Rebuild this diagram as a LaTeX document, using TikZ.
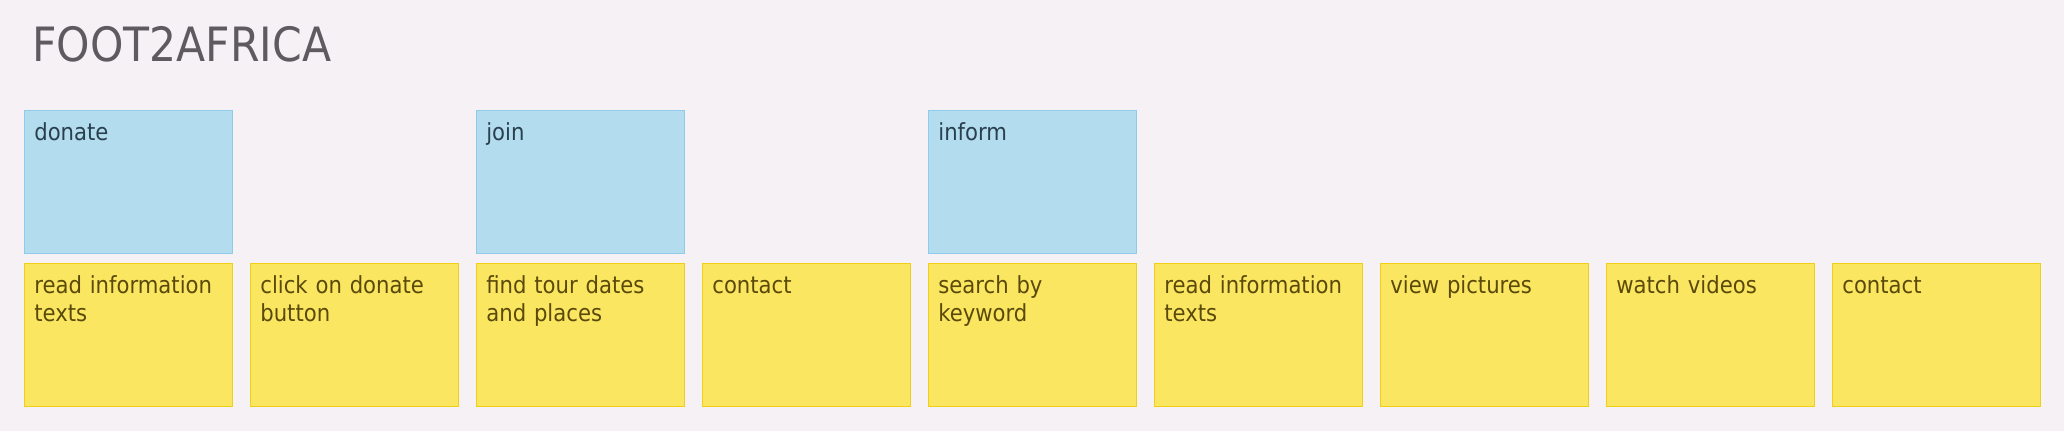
\documentclass[tikz,border=0pt]{standalone}
\usepackage{fontspec}
\setmainfont{DejaVu Sans Condensed}
\usepackage{xcolor}

\definecolor{pagebg}{HTML}{F5F1F5}
\definecolor{goalfill}{HTML}{B3DDEF}
\definecolor{goalline}{HTML}{8FCBEA}
\definecolor{goaltext}{HTML}{2A3F4E}
\definecolor{taskfill}{HTML}{FBE661}
\definecolor{taskline}{HTML}{F0CF14}
\definecolor{tasktext}{HTML}{5A4A0A}
\definecolor{titlegray}{HTML}{5E5A60}

\newcommand{\cardfont}{\fontsize{13.4}{16.1}\selectfont}
\newcommand{\titlefont}{\fontsize{26.9}{31}\selectfont}

\begin{document}
\begin{tikzpicture}[
  goal/.style={fill=goalfill,draw=goalline,line width=0.6pt,
    minimum width=4.16cm,minimum height=2.86cm,anchor=north west,inner sep=0pt},
  task/.style={fill=taskfill,draw=taskline,line width=0.6pt,
    minimum width=4.16cm,minimum height=2.86cm,anchor=north west,inner sep=0pt},
  cardtext/.style={anchor=base west,inner sep=0pt,text width=3.9cm,
    align=left,font=\cardfont}]

  \fill[pagebg] (0,0) rectangle (41.28,-8.62);
  \useasboundingbox (0,0) rectangle (41.28,-8.62);

  \node[anchor=base west,inner sep=0pt,text=titlegray,font=\titlefont]
    (title) at (0.64,-1.234) {FOOT2AFRICA};

  % goals
  \foreach \i/\name in {0/donate,2/join,4/inform} {
    \node[goal] (\name) at (0.48+4.52*\i,-2.206) {};
    \node[cardtext,text=goaltext] (\name-t)
      at ([xshift=0.2cm,yshift=-0.6cm]\name.north west) {\name};
  }

  % tasks
  \foreach \i/\txt in {0/{read information\\texts},1/{click on donate\\button},
    2/{find tour dates\\and places},3/{contact},4/{search by\\keyword},
    5/{read information\\texts},6/{view pictures},7/{watch videos},8/{contact}} {
    \node[task] (task\i) at (0.48+4.52*\i,-5.266) {};
    \node[cardtext,text=tasktext] (task\i-t)
      at ([xshift=0.2cm,yshift=-0.6cm]task\i.north west) {\txt};
  }
\end{tikzpicture}
\end{document}
